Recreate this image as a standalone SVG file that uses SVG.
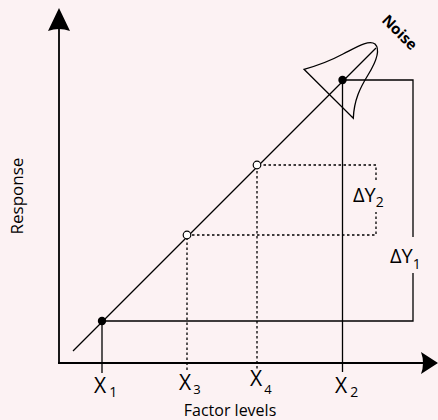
<svg xmlns="http://www.w3.org/2000/svg" width="438" height="420" viewBox="0 0 438 420">
<style>
.ax{stroke:#000;stroke-width:1.8;fill:none}
.ln{stroke:#000;stroke-width:1.3;fill:none}
.dt{stroke:#000;stroke-width:1.3;fill:none;stroke-dasharray:2.5 2.5}
.t{font-family:"Open Sans","Noto Sans",sans-serif;fill:#000}
.b{font-weight:bold}
</style>
<rect width="438" height="420" fill="#fcf2f3"/>
<g id="connectors">
<line class="ax" x1="59" y1="363" x2="59" y2="26"/>
<path d="M59,8 L70,31 Q59,27 48,31 Z" fill="#000"/>
<line class="ax" x1="58" y1="363" x2="424" y2="363"/>
<path d="M438,363 L421,374 Q425,363 421,352 Z" fill="#000"/>
<line class="ln" x1="73" y1="351" x2="376" y2="48"/>
<polyline class="ln" points="102,373 102,321 413,321 413,273"/>
<polyline class="ln" points="413,237 413,80 342.5,80 342.5,372"/>
<polyline class="dt" points="187,370 187,235 376,235 376,212"/>
<polyline class="dt" points="376,180 376,165 257,165 257,370"/>
</g>
<g id="noise">
<path class="ln" d="M304,69.3 L353.3,118.3 C354,100 360,88 368,75 C376,62 381,50 375,44 C369,39 355,48 343,54 C330,61 316,66 304,69.3 Z"/>
<text class="t b" x="0" y="0" font-size="15" transform="translate(381,21) rotate(45)">Noise</text>
</g>
<g id="points">
<circle cx="102" cy="321" r="4.2" fill="#000"/>
<circle cx="342.5" cy="80" r="4.2" fill="#000"/>
<circle cx="187" cy="235" r="3.8" fill="#fff" stroke="#000" stroke-width="1.2"/>
<circle cx="257" cy="165" r="3.8" fill="#fff" stroke="#000" stroke-width="1.2"/>
</g>
<g id="labels">
<text class="t" x="94" y="393" font-size="21">X<tspan font-size="14" dx="3" dy="4">1</tspan></text>
<text class="t" x="179" y="390" font-size="21">X<tspan font-size="13" dx="2" dy="4">3</tspan></text>
<text class="t" x="250" y="386" font-size="21">X<tspan font-size="13" dx="2" dy="8">4</tspan></text>
<text class="t" x="335" y="393" font-size="21">X<tspan font-size="14" dx="3" dy="4">2</tspan></text>
<text class="t" x="230" y="416" font-size="16" text-anchor="middle">Factor levels</text>
<text class="t" x="0" y="0" font-size="17" text-anchor="middle" transform="translate(23,196) rotate(-90)">Response</text>
<text class="t" x="353" y="202" font-size="20">ΔY<tspan font-size="14" dy="5">2</tspan></text>
<text class="t" x="390" y="263" font-size="20">ΔY<tspan font-size="14" dy="6">1</tspan></text>
</g>
</svg>
